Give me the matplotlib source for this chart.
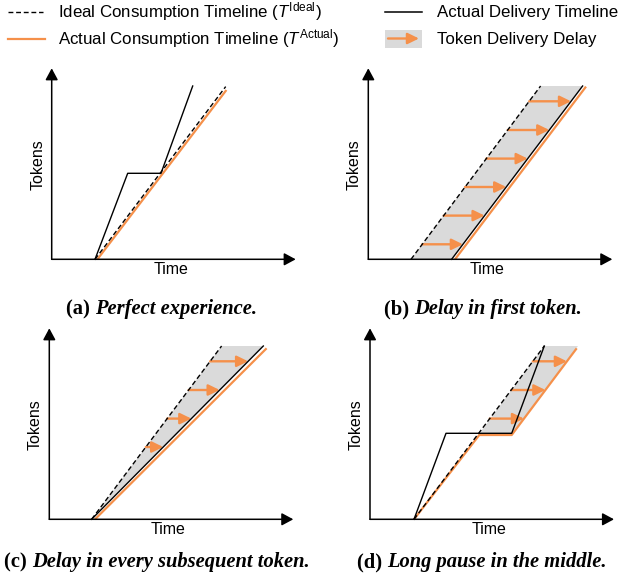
import numpy as np
import matplotlib.pyplot as plt

plt.rcParams['font.family'] = 'Liberation Sans'
plt.rcParams['mathtext.fontset'] = 'custom'
plt.rcParams['mathtext.rm'] = 'Liberation Sans'
plt.rcParams['mathtext.it'] = 'Liberation Sans:italic'

ORANGE = '#F5904A'
GRAY = '#DADADA'

# all panel values are distances (px) from the axis origin
# (a) perfect experience
a_ideal = ([43.3, 174.0], [0, 172.7])
a_cons = ([45.7, 174.7], [0, 169.3])
a_deliv = ([43.3, 76.0, 109.3, 141.0], [0, 86.0, 86.0, 173.3])

# (b) delay in first token
b_ideal = ([42.7, 172.3], [0, 173.3])
b_cons = ([86.7, 217.7], [0, 172.7])
b_deliv = ([83.3, 214.3], [0, 173.3])
b_shade = ([42.7, 172.3, 214.3, 83.3], [0, 173.3, 173.3, 0])
b_arrows = [15.0, 43.7, 72.3, 100.7, 129.3, 158.0]

# (c) delay in every subsequent token
c_ideal = ([42.3, 172.3], [0, 173.3])
c_cons = ([45.7, 217.3], [0, 171.0])
c_deliv = ([42.3, 214.0], [0, 173.3])
c_shade = ([42.3, 172.3, 214.0], [0, 173.3, 173.3])
c_arrows = [72.3, 100.7, 129.3, 158.0]

# (d) long pause in the middle
d_ideal = ([44.0, 174.3], [0, 173.3])
d_cons = ([44.0, 109.3, 141.7, 206.7], [0, 84.3, 84.3, 171.0])
d_deliv = ([44.0, 76.0, 141.7, 174.3], [0, 86.0, 86.0, 173.3])
d_shade = ([108.7, 174.3, 208.0, 141.7], [85.0, 173.3, 173.3, 85.0])
d_arrows = [100.7, 129.3, 158.0]

captions = [('(a)', 'Perfect experience.'),
            ('(b)', 'Delay in first token.'),
            ('(c)', 'Delay in every subsequent token.'),
            ('(d)', 'Long pause in the middle.')]

W, H = 620, 586
fig = plt.figure(figsize=(W / 100, H / 100), dpi=100)

# overlay in pixel coordinates for legend and captions
top = fig.add_axes([0, 0, 1, 1])
top.set_xlim(0, W)
top.set_ylim(H, 0)
top.axis('off')

XMIN, XMAX, YMIN, YMAX = -25, 250, -22, 196


def draw_panel(ox, oy, ideal, cons, deliv, shade=None, arrow_y=(), arrow_to=None):
    ax = fig.add_axes([(ox + XMIN) / W, (H - oy + YMIN) / H,
                       (XMAX - XMIN) / W, (YMAX - YMIN) / H])
    ax.set_xlim(XMIN, XMAX)
    ax.set_ylim(YMIN, YMAX)
    ax.axis('off')
    ax.patch.set_alpha(0)
    if shade is not None:
        ax.fill(shade[0], shade[1], color=GRAY, lw=0, zorder=1)
    for y in arrow_y:
        x0 = np.interp(y, ideal[1], ideal[0])
        x1 = np.interp(y, arrow_to[1], arrow_to[0])
        ax.annotate('', xy=(x1, y), xytext=(x0, y),
                    arrowprops=dict(arrowstyle='-|>,head_length=0.45,head_width=0.22',
                                    mutation_scale=15, color=ORANGE, lw=1.7,
                                    shrinkA=0, shrinkB=0), zorder=2)
    ax.plot(cons[0], cons[1], color=ORANGE, lw=1.6, zorder=3, solid_capstyle='butt')
    ax.plot(ideal[0], ideal[1], color='black', lw=1.0, ls=(0, (3.5, 2)), zorder=4)
    ax.plot(deliv[0], deliv[1], color='black', lw=1.0, zorder=5)
    # axes with arrow heads
    for tip in [(244, 0), (0, 191)]:
        ax.annotate('', xy=tip, xytext=(0, 0),
                    arrowprops=dict(arrowstyle='-|>,head_length=0.5,head_width=0.27',
                                    mutation_scale=14, color='black', lw=1.1,
                                    shrinkA=0, shrinkB=0), zorder=6)
    ax.text(-14, 95, 'Tokens', rotation=90, ha='center', va='center', fontsize=11.5)
    ax.text(119, -10, 'Time', ha='center', va='center', fontsize=11.5)
    return ax


draw_panel(51.7, 259.3, a_ideal, a_cons, a_deliv)
draw_panel(368.3, 259.3, b_ideal, b_cons, b_deliv, b_shade, b_arrows, b_deliv)
draw_panel(49.3, 519.3, c_ideal, c_cons, c_deliv, c_shade, c_arrows, c_deliv)
draw_panel(370.0, 519.3, d_ideal, d_cons, d_deliv, d_shade, d_arrows, d_cons)

# legend
fs = 12.2
top.plot([8, 43], [11.5, 11.5], color='black', lw=1.0, ls=(0, (3.5, 2)))
top.text(58, 17, r'Ideal Consumption Timeline ($T^{\mathrm{Ideal}}$)', va='baseline', fontsize=fs)
top.plot([8, 45], [38.5, 38.5], color=ORANGE, lw=1.6)
top.text(58, 44, r'Actual Consumption Timeline ($T^{\mathrm{Actual}}$)', va='baseline', fontsize=fs)
top.plot([385, 422], [11.5, 11.5], color='black', lw=1.1)
top.text(437, 17, 'Actual Delivery Timeline', va='baseline', fontsize=fs)
top.add_patch(plt.Rectangle((385, 29.5), 37, 18, color=GRAY, lw=0))
top.annotate('', xy=(419, 38.5), xytext=(388, 38.5),
             arrowprops=dict(arrowstyle='-|>,head_length=0.45,head_width=0.22',
                             mutation_scale=15, color=ORANGE, lw=1.7, shrinkA=0, shrinkB=0))
top.text(437, 44, 'Token Delivery Delay', va='baseline', fontsize=fs)

# captions: bold label + bold italic text, centred as one line
renderer = fig.canvas.get_renderer()
cap_pos = [(162, 309), (483, 309), (157, 562), (482, 562)]
cfs = 14.8
for (lab, txt), (cx, cy) in zip(captions, cap_pos):
    t1 = top.text(0, cy, lab + ' ', fontfamily='Liberation Serif', fontweight='bold',
                  fontsize=cfs, va='center')
    t2 = top.text(0, cy, txt, fontfamily='Liberation Serif', fontweight='bold',
                  fontstyle='italic', fontsize=cfs, va='center')
    w1 = t1.get_window_extent(renderer).width
    w2 = t2.get_window_extent(renderer).width
    x0 = cx - (w1 + w2) / 2
    t1.set_x(x0)
    t2.set_x(x0 + w1)

fig.savefig('out.png', dpi=100)
